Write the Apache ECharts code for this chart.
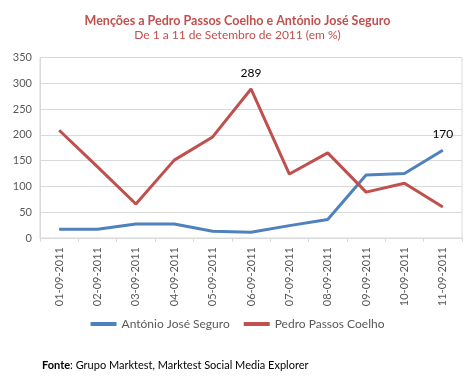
<!DOCTYPE html>
<html><head><meta charset="utf-8">
<script src="https://cdn.jsdelivr.net/npm/echarts@6/dist/echarts.min.js"></script>
<style>html,body{margin:0;padding:0;background:#fff}#c{width:475px;height:380px}</style>
</head><body><div id="c"></div>
<script>
const categories = ['01-09-2011','02-09-2011','03-09-2011','04-09-2011','05-09-2011','06-09-2011','07-09-2011','08-09-2011','09-09-2011','10-09-2011','11-09-2011'];
const seguro = [17, 17, 27, 27, 13, 11, 24, 36, 122, 125, 170];
const passos = [209, 138, 66, 151, 196, 289, 124, 165, 89, 106, 60];
const seriesNames = ['António José Seguro', 'Pedro Passos Coelho'];
const labelledSeguro = [10];
const labelledPassos = [5];

const font = 'Lato';
const chart = echarts.init(document.getElementById('c'), null, {renderer:'canvas'});
function lab(arr, idx){
  return arr.map((v,i)=> idx.includes(i) ? {value:v, label:{show:true, position:'top', distance:10, color:'#000', fontSize:12, fontFamily:font}} : v);
}
chart.setOption({
  animation:false,
  backgroundColor:'#fff',
  title:{
    text:'Menções a Pedro Passos Coelho e António José Seguro',
    subtext:'De 1 a 11 de Setembro de 2011 (em %)',
    left:'center', top:9, itemGap:2,
    textStyle:{color:'#c0504d', fontSize:12.5, fontWeight:'bold', fontFamily:font},
    subtextStyle:{color:'#c0504d', fontSize:12, fontFamily:font}
  },
  graphic:[{
    type:'text', left:42, top:360,
    style:{text:'{b|Fonte}: Grupo Marktest, Marktest Social Media Explorer', fontSize:11, fontFamily:font, fill:'#000',
      rich:{b:{fontWeight:'bold', fontSize:11, fontFamily:font}}}
  }],
  legend:{
    data:seriesNames, top:313, left:'center', itemWidth:26, itemHeight:4, itemGap:14,
    icon:'rect',
    textStyle:{color:'#595959', fontSize:12, fontFamily:font}
  },
  grid:{left:40, right:13, top:57.5, bottom:142, show:true, borderColor:'#d9d9d9', borderWidth:1},
  xAxis:{
    type:'category', data:categories, boundaryGap:true,
    axisLine:{lineStyle:{color:'#d9d9d9'}},
    axisTick:{show:true, length:4, lineStyle:{color:'#d9d9d9'}},
    axisLabel:{rotate:90, color:'#595959', fontSize:11, fontFamily:font, margin:9}
  },
  yAxis:{
    type:'value', min:0, max:350, interval:50,
    axisLine:{show:true, lineStyle:{color:'#d9d9d9'}},
    axisTick:{show:false},
    splitLine:{lineStyle:{color:'#d9d9d9'}},
    axisLabel:{color:'#595959', fontSize:11, fontFamily:font, margin:8}
  },
  series:[
    {name:seriesNames[0], type:'line', data:lab(seguro, labelledSeguro), showSymbol:true, symbol:'circle', symbolSize:0,
     lineStyle:{width:3, color:'#4f81bd'}, itemStyle:{color:'#4f81bd'}},
    {name:seriesNames[1], type:'line', data:lab(passos, labelledPassos), showSymbol:true, symbol:'circle', symbolSize:0,
     lineStyle:{width:3, color:'#c0504d'}, itemStyle:{color:'#c0504d'}}
  ]
});
</script></body></html>
